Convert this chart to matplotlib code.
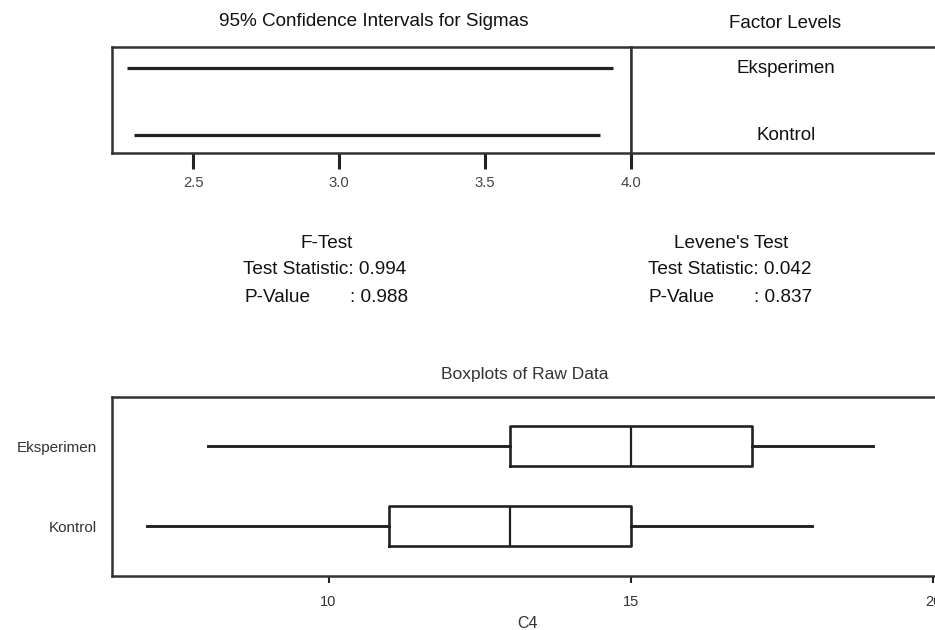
import matplotlib
matplotlib.use("Agg")
import matplotlib.pyplot as plt

plt.rcParams['font.family'] = ['Liberation Sans', 'DejaVu Sans']

# ---- data ----
levels = ["Eksperimen", "Kontrol"]
level_pos = [2, 1]
ci_lower = [2.274, 2.297]
ci_upper = [3.937, 3.895]
ci_ticks = [2.5, 3.0, 3.5, 4.0]
ci_ticklabels = ["2.5", "3.0", "3.5", "4.0"]

f_stat = "0.994"
f_pval = "0.988"
lev_stat = "0.042"
lev_pval = "0.837"

box_whislo = [8, 7]
box_q1 = [13, 11]
box_med = [15, 13]
box_q3 = [17, 15]
box_whishi = [19, 18]
box_ticks = [10, 15, 20]
box_ticklabels = ["10", "15", "20"]
box_xlabel = "C4"

W, H = 935, 630
fig = plt.figure(figsize=(W / 100, H / 100), dpi=100)
fig.patch.set_facecolor("white")

def fx(px):
    return px / W

def fy(py):
    return 1 - py / H

line_col = "#222222"
spine_col = "#333333"

# ---- CI panel ----
ax1 = fig.add_axes([fx(112), fy(152.7), fx(631 - 112), (152.7 - 46.7) / H])
for y, lo, hi in zip(level_pos, ci_lower, ci_upper):
    ax1.hlines(y, lo, hi, color=line_col, lw=2.3)
ax1.set_xlim(2.221, 4.0)
ax1.set_ylim(0.737, 2.324)
ax1.set_yticks([])
ax1.set_xticks(ci_ticks)
ax1.set_xticklabels(ci_ticklabels)
ax1.tick_params(axis='x', direction='out', length=11.5, width=2.2, color=line_col,
                labelsize=10.7, labelcolor="#444444", pad=5)
for s in ax1.spines.values():
    s.set_linewidth(1.8)
    s.set_color(spine_col)

# ---- factor levels panel ----
ax2 = fig.add_axes([fx(631), fy(152.7), fx(941 - 631), (152.7 - 46.7) / H])
ax2.set_xlim(0, 1)
ax2.set_ylim(0.737, 2.324)
ax2.set_xticks([])
ax2.set_yticks([])
for y, name in zip(level_pos, levels):
    ax2.text(0.5, y, name, ha='center', va='center', fontsize=13.5, color="#111111")
for s in ax2.spines.values():
    s.set_linewidth(1.8)
    s.set_color(spine_col)

fig.text(fx(374), fy(21.7), "95% Confidence Intervals for Sigmas", ha='center', va='center',
         fontsize=13.6, color="#111111")
fig.text(fx(785), fy(23), "Factor Levels", ha='center', va='center', fontsize=13.5, color="#111111")

# ---- test statistics text ----
fs = 13.7
fig.text(fx(327), fy(243), "F-Test", ha='center', va='center', fontsize=fs, color="#111111")
fig.text(fx(243), fy(270), "Test Statistic: " + f_stat, ha='left', va='center', fontsize=fs, color="#111111")
fig.text(fx(244), fy(297), "P-Value", ha='left', va='center', fontsize=fs, color="#111111")
fig.text(fx(350), fy(297), ": " + f_pval, ha='left', va='center', fontsize=fs, color="#111111")

fig.text(fx(731), fy(243), "Levene's Test", ha='center', va='center', fontsize=fs, color="#111111")
fig.text(fx(648), fy(270), "Test Statistic: " + lev_stat, ha='left', va='center', fontsize=fs, color="#111111")
fig.text(fx(648), fy(297), "P-Value", ha='left', va='center', fontsize=fs, color="#111111")
fig.text(fx(754), fy(297), ": " + lev_pval, ha='left', va='center', fontsize=fs, color="#111111")

# ---- boxplot panel ----
ax3 = fig.add_axes([fx(112), fy(576), fx(992 - 112), (576 - 397) / H])
stats = []
for i, name in enumerate(levels):
    stats.append(dict(label=name, whislo=box_whislo[i], q1=box_q1[i], med=box_med[i],
                      q3=box_q3[i], whishi=box_whishi[i], fliers=[]))
ax3.bxp(stats, positions=level_pos, vert=False, widths=0.5, showcaps=False, showfliers=False,
        boxprops=dict(color=line_col, lw=1.9),
        whiskerprops=dict(color=line_col, lw=2.1),
        medianprops=dict(color=line_col, lw=1.6))
ax3.set_xlim(6.42, 20.97)
ax3.set_ylim(0.378, 2.615)
ax3.set_yticks(level_pos)
ax3.set_yticklabels(levels)
ax3.tick_params(axis='y', length=0, pad=11, labelsize=11, labelcolor="#333333")
ax3.set_xticks(box_ticks)
ax3.set_xticklabels(box_ticklabels)
ax3.tick_params(axis='x', direction='out', length=5, width=1.5, color=line_col,
                labelsize=10.5, labelcolor="#333333", pad=9)
for s in ax3.spines.values():
    s.set_linewidth(1.8)
    s.set_color(spine_col)

fig.text(fx(525), fy(375), "Boxplots of Raw Data", ha='center', va='center', fontsize=12.5, color="#333333")
fig.text(fx(527), fy(623), box_xlabel, ha='center', va='center', fontsize=11.5, color="#333333")

fig.savefig("out.png", dpi=100, facecolor="white")
